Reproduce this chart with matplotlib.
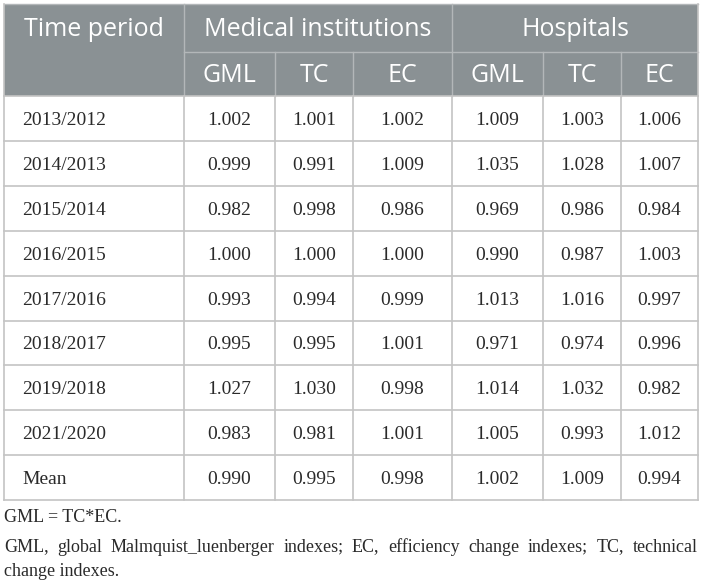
import matplotlib
matplotlib.use("Agg")
import matplotlib.pyplot as plt
from matplotlib.patches import Rectangle

# Table contents
periods = ["2013/2012", "2014/2013", "2015/2014", "2016/2015", "2017/2016",
           "2018/2017", "2019/2018", "2021/2020", "Mean"]
med_gml = ["1.002", "0.999", "0.982", "1.000", "0.993", "0.995", "1.027", "0.983", "0.990"]
med_tc = ["1.001", "0.991", "0.998", "1.000", "0.994", "0.995", "1.030", "0.981", "0.995"]
med_ec = ["1.002", "1.009", "0.986", "1.000", "0.999", "1.001", "0.998", "1.001", "0.998"]
hos_gml = ["1.009", "1.035", "0.969", "0.990", "1.013", "0.971", "1.014", "1.005", "1.002"]
hos_tc = ["1.003", "1.028", "0.986", "0.987", "1.016", "0.974", "1.032", "0.993", "1.009"]
hos_ec = ["1.006", "1.007", "0.984", "1.003", "0.997", "0.996", "0.982", "1.012", "0.994"]
groups = ["Medical institutions", "Hospitals"]
sub_cols = ["GML", "TC", "EC"]
footnote1 = "GML = TC*EC."
footnote2 = "GML, global Malmquist_luenberger indexes; EC, efficiency change indexes; TC, technical"
footnote3 = "change indexes."

W, H = 704, 586
fig = plt.figure(figsize=(W / 100, H / 100), dpi=100)
ax = fig.add_axes([0, 0, 1, 1])
ax.set_xlim(0, W)
ax.set_ylim(H, 0)
ax.axis("off")

header_bg = "#8a9194"
header_line = "#b3b7b9"
grid = "#c4c4c4"
text_col = "#2a2a2a"
hfont = "Open Sans"
bfont = "Liberation Serif"

# column edges (pixels)
xs = [4, 184, 275, 353, 452, 543, 621, 698]
top, mid, hbot = 4, 52, 96
row_h = 44.9
n = len(periods)
bottom = hbot + row_h * n

ax.add_patch(Rectangle((xs[0], top), xs[-1] - xs[0], hbot - top, color=header_bg, lw=0))

# header lines
ax.plot([xs[1], xs[-1]], [mid, mid], color=header_line, lw=1)
for x in [xs[1], xs[4]]:
    ax.plot([x, x], [top, hbot], color=header_line, lw=1)
for x in [xs[2], xs[3], xs[5], xs[6]]:
    ax.plot([x, x], [mid, hbot], color=header_line, lw=1)
ax.plot([xs[0], xs[-1]], [top, top], color=header_line, lw=1)

# body grid
for i in range(n + 1):
    y = hbot + row_h * i
    ax.plot([xs[0], xs[-1]], [y, y], color=grid, lw=1.2)
for x in xs:
    ax.plot([x, x], [hbot, bottom], color=grid, lw=1.2)
ax.plot([xs[0], xs[0]], [top, hbot], color=grid, lw=1.2)
ax.plot([xs[-1], xs[-1]], [top, hbot], color=grid, lw=1.2)

# header text
hs = 18
ax.text((xs[0] + xs[1]) / 2, 29, "Time period", color="white", fontsize=hs,
        family=hfont, ha="center", va="center")
ax.text((xs[1] + xs[4]) / 2, 29, groups[0], color="white", fontsize=hs,
        family=hfont, ha="center", va="center")
ax.text((xs[4] + xs[7]) / 2, 29, groups[1], color="white", fontsize=hs,
        family=hfont, ha="center", va="center")
for g in range(2):
    for j, name in enumerate(sub_cols):
        c = 1 + g * 3 + j
        ax.text((xs[c] + xs[c + 1]) / 2, 75, name, color="white", fontsize=hs,
                family=hfont, ha="center", va="center")

# body text
bs = 14
cols = [med_gml, med_tc, med_ec, hos_gml, hos_tc, hos_ec]
for i in range(n):
    yc = hbot + row_h * (i + 0.5) + 2
    ax.text(22, yc, periods[i], fontsize=bs, family=bfont, color=text_col,
            ha="left", va="center")
    for c, vals in enumerate(cols):
        ax.text((xs[c + 1] + xs[c + 2]) / 2, yc, vals[i], fontsize=bs,
                family=bfont, color=text_col, ha="center", va="center")

# footnotes
fs = 13
ax.text(4, 517, footnote1, fontsize=fs, family=bfont, color=text_col,
        ha="left", va="center")
ax.text(4, 571, footnote3, fontsize=fs, family=bfont, color=text_col,
        ha="left", va="center")

# justified footnote line
words = footnote2.split(" ")
fig.canvas.draw()
r = fig.canvas.get_renderer()
inv = ax.transData.inverted()
widths = []
tmp = []
for w in words:
    t = ax.text(0, 547, w, fontsize=fs, family=bfont, color=text_col,
                ha="left", va="center")
    bb = t.get_window_extent(renderer=r)
    x0 = inv.transform((bb.x0, 0))[0]
    x1 = inv.transform((bb.x1, 0))[0]
    widths.append(x1 - x0)
    tmp.append(t)
left, right = 4, 698
gap = (right - left - sum(widths)) / (len(words) - 1)
x = left
for t, wd in zip(tmp, widths):
    t.set_x(x)
    x += wd + gap

fig.savefig("out.png", dpi=100)
